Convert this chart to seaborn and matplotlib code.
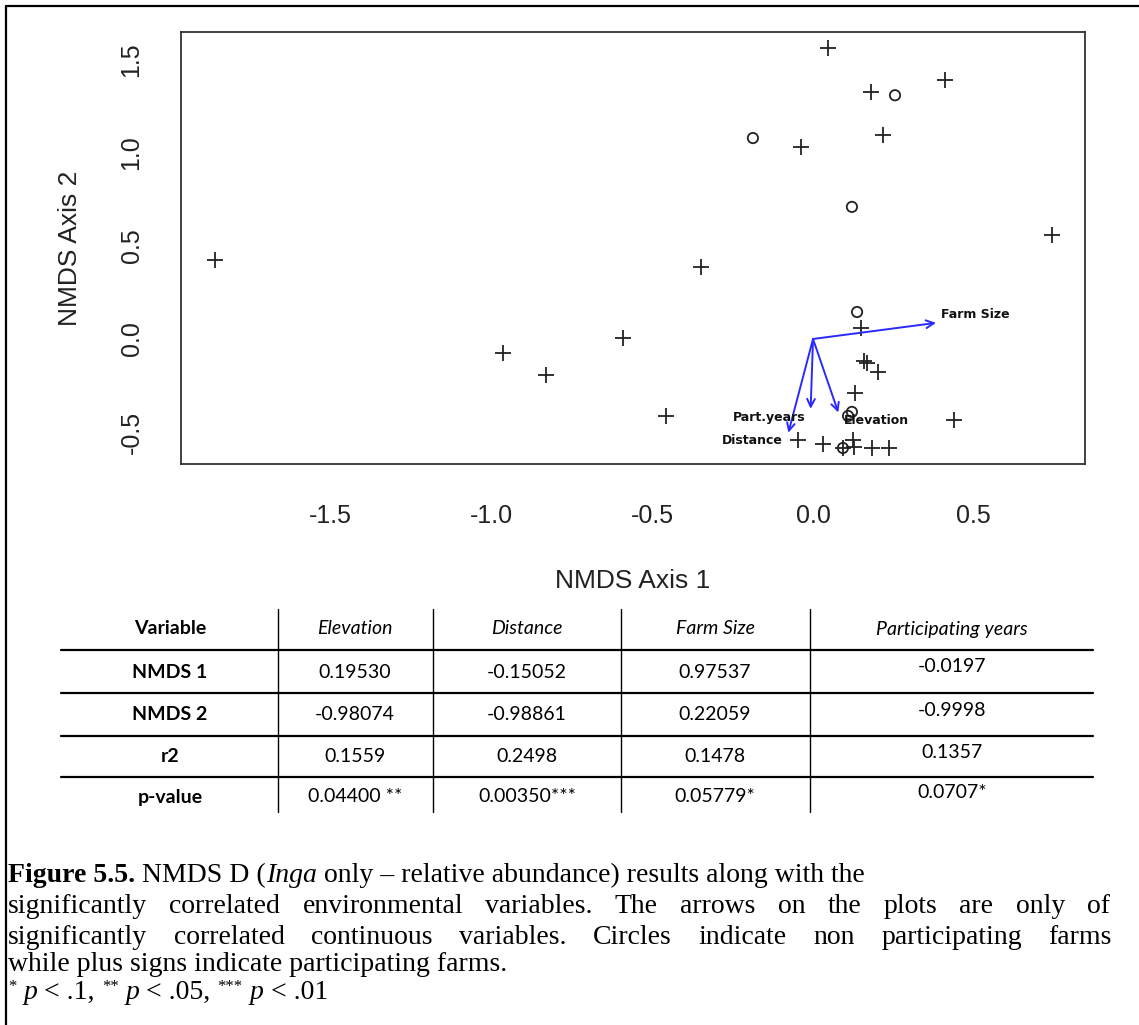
import numpy as np
import pandas as pd
import matplotlib
matplotlib.use("Agg")
import matplotlib.pyplot as plt
from matplotlib.lines import Line2D
import seaborn as sns

# ---------------- data ----------------
# participating farms (plus signs)
part_x = [-1.86, -0.964, -0.83, -0.59, -0.35, -0.457, -0.047, 0.031, 0.093, 0.124,
          0.127, 0.183, 0.236, 0.439, 0.131, 0.168, 0.160, 0.202, 0.149, 0.743,
          0.047, 0.180, 0.410, 0.218, -0.037]
part_y = [0.425, -0.075, -0.194, 0.005, 0.387, -0.414, -0.543, -0.565, -0.586, -0.543,
          -0.580, -0.586, -0.586, -0.435, -0.290, -0.130, -0.120, -0.177, 0.059, 0.560,
          1.565, 1.330, 1.390, 1.097, 1.030]
# non participating farms (circles)
nonpart_x = [0.255, -0.187, 0.121, 0.137, 0.121, 0.109, 0.093]
nonpart_y = [1.310, 1.080, 0.710, 0.145, -0.392, -0.414, -0.586]

# envfit table
table_vars = ["Elevation", "Distance", "Farm Size", "Participating years"]
arrow_labels = ["Elevation", "Distance", "Farm Size", "Part.years"]
nmds1 = ["0.19530", "-0.15052", "0.97537", "-0.0197"]
nmds2 = ["-0.98074", "-0.98861", "0.22059", "-0.9998"]
r2 = ["0.1559", "0.2498", "0.1478", "0.1357"]
pvals = ["0.04400 **", "0.00350***", "0.05779*", "0.0707*"]
row_names = ["Variable", "NMDS 1", "NMDS 2", "r2", "p-value"]
x_ticks = [-1.5, -1.0, -0.5, 0.0, 0.5]
y_ticks = [-0.5, 0.0, 0.5, 1.0, 1.5]
arrow_mul = 1.02

caption_lines = [
    [("Figure 5.5.", "b"), (" NMDS D (", ""), ("Inga", "i"),
     (" only \u2013 relative abundance) results along with the", "")],
    [("significantly correlated environmental variables. The arrows on the plots are only of", "")],
    [("significantly correlated continuous variables. Circles indicate non participating farms", "")],
    [("while plus signs indicate participating farms.", "")],
]
footnote = [("*", "s"), (" ", ""), ("p", "i"), (" < .1, ", ""), ("**", "s"), (" ", ""),
            ("p", "i"), (" < .05, ", ""), ("***", "s"), (" ", ""), ("p", "i"), (" < .01", "")]

# ---------------- figure ----------------
W, H = 1139, 1025
sns.set_style("white")
plt.rcParams["font.family"] = ["Liberation Sans", "DejaVu Sans"]

fig = plt.figure(figsize=(W / 100, H / 100), dpi=100)
fig.patch.set_facecolor("white")


def fx(px):
    return px / W


def fy(py):
    return 1 - py / H


ax = fig.add_axes([fx(181), fy(464), fx(1085) - fx(181), fy(32) - fy(464)])

df_p = pd.DataFrame({"x": part_x, "y": part_y})
df_c = pd.DataFrame({"x": nonpart_x, "y": nonpart_y})
sns.scatterplot(data=df_p, x="x", y="y", marker="+", s=140, color="#222222",
                linewidth=1.3, ax=ax, zorder=3)
sns.scatterplot(data=df_c, x="x", y="y", marker="o", s=55, facecolor="none",
                edgecolor="#222222", linewidth=1.3, ax=ax, zorder=3)

ax.set_xlim(-1.966, 0.846)
ax.set_ylim(-0.672, 1.65)
ax.set_xticks(x_ticks)
ax.set_yticks(y_ticks)
ax.set_xticklabels([f"{v:.1f}" for v in x_ticks])
ax.set_yticklabels([f"{v:.1f}" for v in y_ticks])

for sp in ax.spines.values():
    sp.set_color("#333333")
    sp.set_linewidth(1.3)
    sp.set_visible(True)

ax.tick_params(axis="both", direction="out", length=12, width=1.3, color="#333333",
               labelsize=18, labelcolor="#222222")
ax.tick_params(axis="x", pad=17)
ax.tick_params(axis="y", pad=15, labelrotation=90)
for lab in ax.get_yticklabels():
    lab.set_va("center")

ax.set_xlabel("NMDS Axis 1", fontsize=19, color="#222222")
ax.set_ylabel("NMDS Axis 2", fontsize=19, color="#222222")
ax.xaxis.set_label_coords(0.5, (464 - 581) / 432)
ax.xaxis.label.set_va("center")
ax.yaxis.set_label_coords((70 - 181) / 904, 0.5)
ax.yaxis.label.set_va("center")
ax.yaxis.label.set_ha("center")

# envfit arrows
xr = ax.get_xlim()[1] - ax.get_xlim()[0]
yr = ax.get_ylim()[1] - ax.get_ylim()[0]
for lab, a, b, r in zip(arrow_labels, nmds1, nmds2, r2):
    sc = np.sqrt(float(r)) * arrow_mul
    tx, ty = float(a) * sc, float(b) * sc
    ax.annotate("", xy=(tx, ty), xytext=(0, 0),
                arrowprops=dict(arrowstyle="->", color="#2a2aff", lw=1.4,
                                shrinkA=0, shrinkB=0, mutation_scale=14))
    ha = "left" if tx > 0 else "right"
    va = "bottom" if ty > 0 else "top"
    ox = 0.006 * xr * np.sign(tx)
    oy = 0.004 * yr * np.sign(ty)
    ax.text(tx + ox, ty + oy, lab, ha=ha, va=va, fontsize=9, fontweight="bold",
            family="DejaVu Sans", color="#111111", zorder=4)

# ---------------- outer frame ----------------
fig.add_artist(Line2D([fx(6), fx(6)], [fy(6), fy(1030)], color="black", lw=1.6))
fig.add_artist(Line2D([fx(6), fx(1139)], [fy(6), fy(6)], color="black", lw=1.6))

# ---------------- table ----------------
tfont = ["Lato", "DejaVu Sans"]
col_centers = [170, 355, 527, 715, 952]
row_centers = [629, 672, 715, 757, 797]
hlines = [650, 693, 736, 777]
vlines = [278, 433, 621, 810]
for yy in hlines:
    fig.add_artist(Line2D([fx(61), fx(1093)], [fy(yy), fy(yy)], color="black", lw=1.6))
for xx in vlines:
    fig.add_artist(Line2D([fx(xx), fx(xx)], [fy(609), fy(812)], color="black", lw=1.0))

tsize = 14
for i, name in enumerate(row_names):
    fig.text(fx(col_centers[0]), fy(row_centers[i]), name, ha="center", va="center",
             fontsize=tsize, fontweight="bold", family=tfont, color="black")
for j, v in enumerate(table_vars):
    fig.text(fx(col_centers[j + 1]), fy(row_centers[0]), v, ha="center", va="center",
             fontsize=tsize, fontstyle="italic", family=tfont, color="black")
for r_i, vals in enumerate([nmds1, nmds2, r2, pvals]):
    for j, v in enumerate(vals):
        shift = -5 if j == 3 else 0
        fig.text(fx(col_centers[j + 1]), fy(row_centers[r_i + 1] + shift), v,
                 ha="center", va="center", fontsize=tsize, family=tfont, color="black")

# ---------------- caption ----------------
renderer = fig.canvas.get_renderer()
cap_size = 20
serif = ["Liberation Serif", "DejaVu Serif"]


def text_run(x, yb, s, style, size):
    sz = size * 0.6 if "s" in style else size
    yy = yb - (size * 0.4 if "s" in style else 0)
    t = fig.text(fx(x), fy(yy), s, fontsize=sz, family=serif,
                 fontweight="bold" if "b" in style else "normal",
                 fontstyle="italic" if "i" in style else "normal",
                 ha="left", va="baseline", color="black")
    return t, t.get_window_extent(renderer=renderer).width


def draw_runs(x_px, base_px, parts, size):
    x = x_px
    for s, style in parts:
        _, w = text_run(x, base_px, s, style, size)
        x += w


def draw_justified(x_px, x_end, base_px, text, size):
    words = text.split(" ")
    widths = []
    arts = []
    for wd in words:
        t, w = text_run(0, base_px, wd, "", size)
        arts.append(t)
        widths.append(w)
    gap = (x_end - x_px - sum(widths)) / (len(words) - 1)
    x = x_px
    for t, w in zip(arts, widths):
        t.set_x(fx(x))
        x += w + gap


draw_runs(8, 882, caption_lines[0], cap_size)
draw_justified(8, 1110, 913, caption_lines[1][0][0], cap_size)
draw_justified(8, 1112, 944, caption_lines[2][0][0], cap_size)
draw_runs(8, 971, caption_lines[3], cap_size)
draw_runs(8, 999, footnote, cap_size)

fig.savefig("out.png", dpi=100, facecolor="white")
